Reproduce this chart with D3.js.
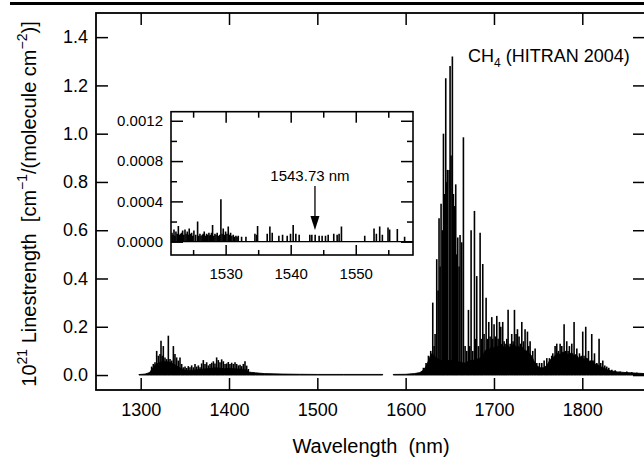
<!DOCTYPE html>
<html>
<head>
<meta charset="utf-8">
<script src="https://cdn.jsdelivr.net/npm/d3@7"></script>
<style>
  body { margin: 0; background: #fff; }
  svg { display: block; font-family: "Liberation Sans", Arial, Helvetica, sans-serif; }
</style>
</head>
<body>
<svg id="chart" width="644" height="457"></svg>
<script>
// === Données (unités de 1e-21) ===

// fond de raies faibles (enveloppe), null = trou dans le trait
const bandWavelengths = [1298, 1305, 1310, 1313, 1316, 1320, 1325, 1330, 1335, 1340, 1345, 1350, 1355, 1360, 1365, 1370, 1375, 1380, 1385, 1390, 1395, 1400, 1405, 1410, 1415, 1420, 1423, 1430, 1440, 1450, 1460, 1480, 1500, 1530, 1574, 1575, 1585, 1586, 1600, 1610,
  1616, 1620, 1623, 1626, 1628, 1630, 1632, 1635, 1640, 1645, 1650, 1655, 1660, 1665, 1668, 1672, 1676, 1680, 1684, 1688, 1690, 1692.5, 1695, 1697.5, 1700, 1702.5, 1705, 1707.5, 1710, 1712.5, 1715, 1717.5, 1720, 1722.5, 1725, 1727.5, 1730, 1732.5, 1735, 1737.5, 1740, 1742.5, 1745, 1748, 1752, 1756,
  1760, 1763, 1766, 1769, 1772, 1775, 1778, 1781, 1784, 1787, 1790, 1793, 1796, 1799, 1802, 1805, 1808, 1811, 1814, 1817, 1820, 1824, 1828, 1832, 1836, 1840, 1850, 1860, 1871];
const bandLevels = [0.002, 0.004, 0.01, 0.025, 0.04, 0.05, 0.055, 0.055, 0.05, 0.04, 0.028, 0.02, 0.018, 0.02, 0.022, 0.024, 0.026, 0.028, 0.03, 0.028, 0.026, 0.028, 0.026, 0.025, 0.024, 0.02, 0.012, 0.009, 0.006, 0.005, 0.004, 0.003, 0.0025, 0.0025, 0.0025, null, null, 0.0025, 0.003, 0.006,
  0.01, 0.02, 0.035, 0.06, 0.08, 0.09, 0.08, 0.07, 0.06, 0.06, 0.06, 0.06, 0.055, 0.05, 0.05, 0.06, 0.06, 0.065, 0.07, 0.085, 0.1, 0.11, 0.105, 0.12, 0.11, 0.125, 0.115, 0.13, 0.12, 0.11, 0.125, 0.115, 0.12, 0.13, 0.115, 0.12, 0.11, 0.115, 0.1, 0.1, 0.09, 0.08, 0.06, 0.04, 0.03, 0.03,
  0.04, 0.06, 0.07, 0.08, 0.09, 0.085, 0.095, 0.09, 0.085, 0.09, 0.08, 0.085, 0.07, 0.075, 0.065, 0.07, 0.055, 0.06, 0.045, 0.045, 0.035, 0.03, 0.022, 0.018, 0.015, 0.013, 0.01, 0.008, 0.006];

// raies individuelles (bâtons)
const lineWavelengths = [
  1310.5, 1312.4, 1314.3, 1316.2, 1318.1, 1320, 1321.9, 1323, 1324.5, 1325.6, 1327.5, 1329.4, 1331.3, 1333.2, 1335.1, 1337, 1338.8, 1340.7, 1342.6, 1344.5, 1346.4, 1348.3, 1350.2, 1352.1, 1353.9, 1355.8, 1357.7, 1359.6, 1361.5, 1363.4, 1365.3, 1367.2, 1369, 1370.9, 1372.8, 1374.7, 1376.6, 1378.5, 1380.4, 1382.3, 1384.1, 1386, 1387.9, 1389.8, 1391.7, 1393.6, 1395.5, 1397.4, 1399.2, 1401.1, 1403, 1404.9, 1406.8, 1408.7, 1410.6, 1412.5, 1414.3, 1416.2, 1418.1, 1420, 1421.9, 1423.8, 1428, 1434,
  1620.1, 1623.1, 1625.8, 1628.4, 1630.7, 1632.2, 1633.3, 1635.2, 1636.7, 1637.8, 1639, 1640.1, 1641.6, 1642.8, 1644.3, 1645.4, 1646.5, 1647.3, 1649.2, 1650.3, 1651.4, 1652.9, 1654.1, 1655.2, 1656.7, 1657.9, 1659, 1660.5, 1661.6, 1663.5, 1665.4, 1667.3, 1669.2, 1671.1, 1672.6, 1674.1, 1676, 1677.9, 1679.4, 1680.5, 1682.4, 1684.3, 1685.8, 1687.3, 1688.8, 1691.1, 1692.6, 1694.1, 1695.6, 1697.5, 1698.6, 1700.1, 1701.6, 1703.2, 1704.7, 1706.2, 1707.7, 1709.9, 1711.5, 1712.6, 1714.5, 1716, 1718.3, 1720.1, 1721.6, 1723.2, 1725, 1726.6, 1728.4, 1730, 1731.5, 1733.4, 1735.2, 1737.9, 1739.4, 1740.9, 1743.9, 1746.6, 1748.5, 1751.5, 1754.1, 1756.8, 1759.8, 1762.8, 1765.4, 1766.6, 1769.2, 1771.1, 1773, 1774.9, 1776.8, 1779.4, 1780.9, 1782.4, 1783.9, 1785.4, 1788.1, 1789.2, 1790.7, 1792.2, 1793.8, 1796.8, 1798.7, 1800.5, 1802, 1803.9, 1805.5, 1807, 1808.9, 1810.7, 1812.2, 1813.8, 1816.4, 1819, 1820.9, 1823.2, 1825.5, 1827.7, 1830, 1833.4, 1837.2, 1842.8, 1850.4, 1856, 1861.7];
const lineStrengths = [
  0.011, 0.035, 0.046, 0.053, 0.1, 0.08, 0.087, 0.142, 0.08, 0.12, 0.073, 0.066, 0.163, 0.066, 0.06, 0.12, 0.087, 0.073, 0.06, 0.073, 0.046, 0.032, 0.035, 0.029, 0.037, 0.032, 0.04, 0.032, 0.046, 0.035, 0.04, 0.032, 0.048, 0.062, 0.046, 0.053, 0.04, 0.046, 0.051, 0.057, 0.048, 0.073, 0.062, 0.053, 0.065, 0.057, 0.046, 0.048, 0.054, 0.046, 0.051, 0.046, 0.053, 0.046, 0.04, 0.043, 0.037, 0.046, 0.057, 0.039, 0.025, 0.011, 0.01, 0.008,
  0.03, 0.05, 0.08, 0.1, 0.3, 0.12, 0.17, 0.48, 0.35, 0.65, 0.45, 0.71, 0.6, 1.0, 0.75, 1.23, 0.8, 0.85, 0.85, 1.28, 0.91, 1.32, 0.75, 0.7, 0.79, 0.5, 0.57, 0.45, 0.58, 0.55, 0.985, 0.12, 0.1, 0.27, 0.12, 0.6, 0.1, 0.68, 0.15, 0.41, 0.12, 0.59, 0.15, 0.46, 0.17, 0.32, 0.15, 0.22, 0.16, 0.24, 0.15, 0.21, 0.16, 0.245, 0.15, 0.22, 0.2, 0.22, 0.14, 0.13, 0.15, 0.27, 0.13, 0.17, 0.14, 0.27, 0.17, 0.19, 0.16, 0.13, 0.22, 0.14, 0.19, 0.18, 0.12, 0.14, 0.1, 0.11, 0.05, 0.05, 0.05, 0.06, 0.07, 0.07, 0.08, 0.09, 0.12, 0.13, 0.1, 0.13, 0.12, 0.21, 0.1, 0.14, 0.1, 0.12, 0.13, 0.09, 0.22, 0.08, 0.11, 0.09, 0.08, 0.18, 0.08, 0.2, 0.07, 0.1, 0.06, 0.17, 0.06, 0.09, 0.05, 0.15, 0.05, 0.06, 0.04, 0.035, 0.03, 0.022, 0.02, 0.015, 0.015, 0.012, 0.01];

// encart : raies faibles autour de 1543.73 nm
const insetWavelengths = [1521.75, 1521.9, 1522.06, 1522.2, 1522.36, 1522.55, 1522.73, 1522.9, 1523.07, 1523.23, 1523.39, 1523.57, 1523.75, 1523.92, 1524.1, 1524.25, 1524.4, 1524.58, 1524.77, 1524.95, 1525.12, 1525.4, 1525.69, 1525.87, 1526.05, 1526.22, 1526.4, 1526.55, 1526.71, 1526.89, 1527.07, 1527.25, 1527.43, 1527.55, 1527.68, 1527.83, 1527.99, 1528.17, 1528.35, 1528.52, 1528.7, 1528.9, 1529.1, 1529.27, 1529.45, 1529.63, 1529.8, 1529.99, 1530.2, 1530.4, 1530.58, 1530.76, 1530.96, 1531.17, 1531.37, 1531.58, 1531.75, 1531.94,
  1532.45, 1533.12, 1534.5, 1534.76, 1534.91, 1536.39, 1536.8, 1537.16, 1538.18, 1538.75, 1539.46, 1539.97, 1540.38, 1540.79, 1541.3, 1542.94, 1543.25, 1543.76, 1544.37, 1544.83, 1545.35, 1545.76, 1546.62, 1547.14, 1547.44, 1547.8, 1551.38, 1552.81, 1553.17, 1553.68, 1554.09, 1554.96, 1555.21, 1556.39, 1557.51];
const insetStrengths = [0.00009, 0.00007, 0.00012, 0.00006, 0.0001, 0.00008, 0.000156, 0.00007, 0.00008, 0.00009, 0.00011, 0.00007, 0.00012, 0.00008, 0.0001, 0.00007, 0.00013, 0.00008, 0.00009, 0.00006, 0.00011, 0.00007, 0.0002, 0.00006, 0.00008, 0.00006, 0.00007, 0.00008, 0.0001, 0.00006, 0.00008, 0.00007, 0.00009, 0.00006, 0.00007, 0.00009, 0.000166, 0.00006, 0.00008, 0.00007, 0.00009, 0.00006, 0.00007, 0.00042, 0.00008, 0.00013, 0.00007, 0.0001, 0.00008, 0.00015, 0.00007, 0.00009, 0.00006, 0.00007, 0.00005, 0.00006, 0.00005, 0.00006,
  0.00005, 0.00005, 0.00008, 0.00007, 0.000156, 0.00008, 0.00015, 0.00009, 0.00006, 0.00007, 0.00006, 0.00008, 0.000166, 0.00008, 0.00007, 0.00007, 0.00007, 0.00007, 0.00006, 0.00006, 0.00006, 0.00007, 0.00008, 0.00007, 0.00008, 0.00015, 0.00006, 0.00013, 0.00008, 0.00015, 0.00007, 0.00014, 0.00012, 0.000126, 0.00005];

const xTicks = [1300, 1400, 1500, 1600, 1700, 1800];
const yTicks = [0, 0.2, 0.4, 0.6, 0.8, 1.0, 1.2, 1.4];
const insetXTicks = [1530, 1540, 1550];
const insetXMinor = [1525, 1535, 1545, 1555];
const insetYTicks = [0, 0.0004, 0.0008, 0.0012];
const insetYMinor = [0.0002, 0.0006, 0.001];
const markedLine = 1543.73;

// === Mise en page ===
const svg = d3.select('#chart');
const plotLeft = 96, plotRight = 645, plotTop = 13, plotBottom = 390;

const x = d3.scaleLinear().domain([1249.4, 1871]).range([plotLeft, plotRight]);
const y = d3.scaleLinear().domain([-0.062, 1.5]).range([plotBottom, plotTop]);

// filet noir en haut de page
svg.append('rect').attr('x', 10).attr('y', 2).attr('width', 640).attr('height', 3).attr('fill', '#000');

svg.append('clipPath').attr('id', 'plotClip')
  .append('rect').attr('x', plotLeft).attr('y', plotTop).attr('width', plotRight - plotLeft).attr('height', plotBottom - plotTop);

const plot = svg.append('g').attr('clip-path', 'url(#plotClip)');

// enveloppe des raies faibles
const band = bandWavelengths.map((w, i) => [w, bandLevels[i]]);
const area = d3.area()
  .defined(d => d[1] != null)
  .x(d => x(d[0]))
  .y0(y(0))
  .y1(d => y(d[1]));
plot.append('path')
  .datum(band)
  .attr('d', area)
  .attr('fill', '#000')
  .attr('stroke', '#000')
  .attr('stroke-width', 0.9);

// bâtons
const lines = lineWavelengths.map((w, i) => ({ w, s: lineStrengths[i] }));
plot.append('g').selectAll('line').data(lines)
  .enter().append('line')
  .attr('x1', d => x(d.w)).attr('x2', d => x(d.w))
  .attr('y1', y(0)).attr('y2', d => y(d.s))
  .attr('stroke', '#000')
  .attr('stroke-width', 1.6);

// === Axes principaux ===
const fmt = d3.format('.1f');
function styleAxis(g) {
  g.select('.domain').remove();
  g.selectAll('.tick line').attr('stroke', '#000').attr('stroke-width', 1.5);
  g.selectAll('.tick text').attr('fill', '#000');
}

svg.append('g')
  .attr('transform', `translate(0,${plotBottom})`)
  .call(d3.axisBottom(x).tickValues(xTicks).tickSize(-12).tickPadding(13).tickFormat(d3.format('d')))
  .call(styleAxis)
  .call(g => g.selectAll('text').style('font-size', '18px'));

svg.append('g')
  .attr('transform', `translate(${plotLeft},0)`)
  .call(d3.axisLeft(y).tickValues(yTicks).tickSize(-12).tickPadding(8).tickFormat(fmt))
  .call(styleAxis)
  .call(g => g.selectAll('text').style('font-size', '18px'));

svg.append('g')
  .attr('transform', `translate(0,${plotTop})`)
  .call(d3.axisTop(x).tickValues(xTicks).tickSize(-12).tickFormat(''))
  .call(styleAxis);

svg.append('g')
  .attr('transform', `translate(${plotRight},0)`)
  .call(d3.axisRight(y).tickValues(yTicks).tickSize(-12).tickFormat(''))
  .call(styleAxis);

svg.append('rect')
  .attr('x', plotLeft).attr('y', plotTop).attr('width', plotRight - plotLeft).attr('height', plotBottom - plotTop)
  .attr('fill', 'none').attr('stroke', '#000').attr('stroke-width', 1.8);

// titres
svg.append('text')
  .attr('x', 371).attr('y', 453)
  .attr('text-anchor', 'middle')
  .style('font-size', '20px')
  .style('white-space', 'pre')
  .text('Wavelength  (nm)');

const yTitle = svg.append('text')
  .attr('transform', 'translate(36,204) rotate(-90)')
  .attr('text-anchor', 'middle')
  .style('font-size', '20px')
  .style('white-space', 'pre');
yTitle.append('tspan').text('10');
yTitle.append('tspan').attr('dy', -9).style('font-size', '14px').text('21');
yTitle.append('tspan').attr('dy', 9).text(' Linestrength  [cm');
yTitle.append('tspan').attr('dy', -9).style('font-size', '14px').text('\u22121');
yTitle.append('tspan').attr('dy', 9).text('/(molecule cm');
yTitle.append('tspan').attr('dy', -9).style('font-size', '14px').text('\u22122');
yTitle.append('tspan').attr('dy', 9).text(')]');

// étiquette de l'espèce
const label = svg.append('text').attr('x', 468).attr('y', 62).style('font-size', '18px');
label.append('tspan').text('CH');
label.append('tspan').attr('dy', 5).style('font-size', '12px').text('4');
label.append('tspan').attr('dy', -5).text(' (HITRAN 2004)');

// === Encart ===
const ix = d3.scaleLinear().domain([1521.6, 1558.8]).range([171, 413]);
const iy = d3.scaleLinear().domain([-0.000132, 0.00129]).range([255, 111.7]);

svg.append('rect')
  .attr('x', 171).attr('y', 111.7).attr('width', 242).attr('height', 143.3)
  .attr('fill', '#fff');

svg.append('clipPath').attr('id', 'insetClip')
  .append('rect').attr('x', 171).attr('y', 111.7).attr('width', 242).attr('height', 143.3);

const inset = svg.append('g').attr('clip-path', 'url(#insetClip)');
const insetLines = insetWavelengths.map((w, i) => ({ w, s: insetStrengths[i] }));
inset.selectAll('line').data(insetLines)
  .enter().append('line')
  .attr('x1', d => ix(d.w)).attr('x2', d => ix(d.w))
  .attr('y1', iy(0)).attr('y2', d => iy(d.s))
  .attr('stroke', '#000')
  .attr('stroke-width', 1.6);
inset.append('line')
  .attr('x1', ix(1521.6)).attr('x2', ix(1558.8))
  .attr('y1', iy(0)).attr('y2', iy(0))
  .attr('stroke', '#000').attr('stroke-width', 1.2);

// axes de l'encart (majeurs + mineurs)
svg.append('g').attr('transform', 'translate(0,255)')
  .call(d3.axisBottom(ix).tickValues(insetXTicks).tickSize(-10).tickPadding(13).tickFormat(d3.format('d')))
  .call(styleAxis)
  .call(g => g.selectAll('text').style('font-size', '15px'));
svg.append('g').attr('transform', 'translate(0,255)')
  .call(d3.axisBottom(ix).tickValues(insetXMinor).tickSize(-5).tickFormat(''))
  .call(styleAxis);
svg.append('g').attr('transform', 'translate(0,111.7)')
  .call(d3.axisTop(ix).tickValues(insetXTicks).tickSize(-11).tickFormat(''))
  .call(styleAxis);
svg.append('g').attr('transform', 'translate(0,111.7)')
  .call(d3.axisTop(ix).tickValues(insetXMinor).tickSize(-6).tickFormat(''))
  .call(styleAxis);

svg.append('g').attr('transform', 'translate(171,0)')
  .call(d3.axisLeft(iy).tickValues(insetYTicks).tickSize(-12).tickPadding(8).tickFormat(d3.format('.4f')))
  .call(styleAxis)
  .call(g => g.selectAll('text').style('font-size', '15px'));
svg.append('g').attr('transform', 'translate(171,0)')
  .call(d3.axisLeft(iy).tickValues(insetYMinor).tickSize(-6).tickFormat(''))
  .call(styleAxis);
svg.append('g').attr('transform', 'translate(413,0)')
  .call(d3.axisRight(iy).tickValues(insetYTicks).tickSize(-12).tickFormat(''))
  .call(styleAxis);
svg.append('g').attr('transform', 'translate(413,0)')
  .call(d3.axisRight(iy).tickValues(insetYMinor).tickSize(-6).tickFormat(''))
  .call(styleAxis);

svg.append('rect')
  .attr('x', 171).attr('y', 111.7).attr('width', 242).attr('height', 143.3)
  .attr('fill', 'none').attr('stroke', '#000').attr('stroke-width', 1.6);

// flèche vers la raie 1543.73 nm
const ax = ix(markedLine);
svg.append('text')
  .attr('x', ax - 5).attr('y', 181)
  .attr('text-anchor', 'middle')
  .style('font-size', '15px')
  .text(`${markedLine} nm`);
svg.append('line')
  .attr('x1', ax).attr('x2', ax).attr('y1', 186).attr('y2', 218)
  .attr('stroke', '#000').attr('stroke-width', 1.3);
svg.append('path')
  .attr('d', `M${ax - 4.5},216 L${ax + 4.5},216 L${ax},230 Z`)
  .attr('fill', '#000');
</script>
</body>
</html>
